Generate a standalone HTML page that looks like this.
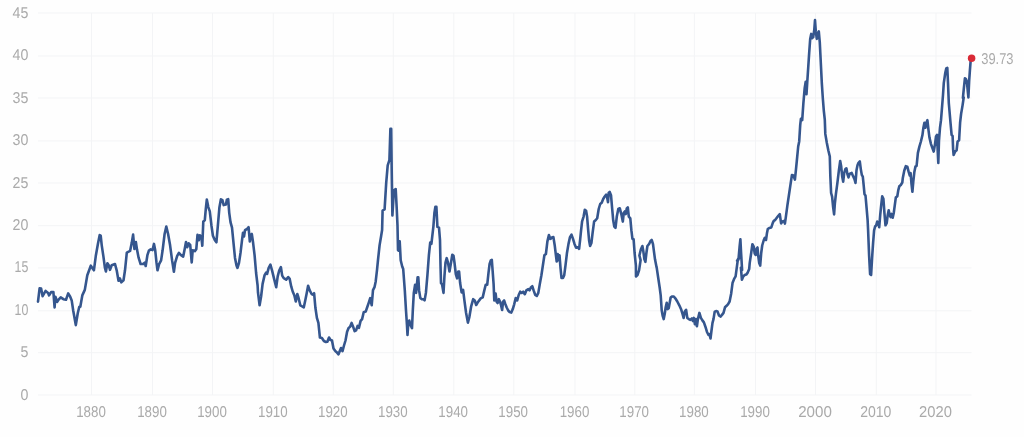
<!DOCTYPE html><html><head><meta charset="utf-8"><style>
html,body{margin:0;padding:0;background:#fff;}body{width:1024px;height:437px;overflow:hidden;position:relative;font-family:"Liberation Sans",sans-serif;}
svg{position:absolute;left:0;top:0;}text{text-rendering:geometricPrecision;font-family:"Liberation Sans",sans-serif;font-size:15.7px;fill:#aaaaaa;}
</style></head><body>
<svg width="1024" height="437" viewBox="0 0 1024 437">
<rect x="0" y="0" width="1024" height="437" fill="#fefefe"/>
<g stroke="#f3f4f6" stroke-width="1" fill="none">
<line x1="38" x2="971.5" y1="395.0" y2="395.0"/>
<line x1="38" x2="971.5" y1="352.7" y2="352.7"/>
<line x1="38" x2="971.5" y1="310.8" y2="310.8"/>
<line x1="38" x2="971.5" y1="267.9" y2="267.9"/>
<line x1="38" x2="971.5" y1="225.7" y2="225.7"/>
<line x1="38" x2="971.5" y1="183.0" y2="183.0"/>
<line x1="38" x2="971.5" y1="140.9" y2="140.9"/>
<line x1="38" x2="971.5" y1="98.0" y2="98.0"/>
<line x1="38" x2="971.5" y1="56.0" y2="56.0"/>
<line x1="38" x2="971.5" y1="13.0" y2="13.0"/>
<line x1="91.5" x2="91.5" y1="13.0" y2="395.0"/>
<line x1="152.5" x2="152.5" y1="13.0" y2="395.0"/>
<line x1="212.5" x2="212.5" y1="13.0" y2="395.0"/>
<line x1="273.3" x2="273.3" y1="13.0" y2="395.0"/>
<line x1="333.3" x2="333.3" y1="13.0" y2="395.0"/>
<line x1="393.3" x2="393.3" y1="13.0" y2="395.0"/>
<line x1="453.8" x2="453.8" y1="13.0" y2="395.0"/>
<line x1="513.8" x2="513.8" y1="13.0" y2="395.0"/>
<line x1="575.0" x2="575.0" y1="13.0" y2="395.0"/>
<line x1="634.8" x2="634.8" y1="13.0" y2="395.0"/>
<line x1="694.4" x2="694.4" y1="13.0" y2="395.0"/>
<line x1="755.5" x2="755.5" y1="13.0" y2="395.0"/>
<line x1="815.5" x2="815.5" y1="13.0" y2="395.0"/>
<line x1="876.3" x2="876.3" y1="13.0" y2="395.0"/>
<line x1="936.0" x2="936.0" y1="13.0" y2="395.0"/>
</g>
<g style="filter:blur(0.3px)">
<text transform="translate(28.3,399.7) scale(0.905,1)" text-anchor="end">0</text>
<text transform="translate(28.3,357.3) scale(0.905,1)" text-anchor="end">5</text>
<text transform="translate(28.3,314.8) scale(0.790,1)" text-anchor="end">10</text>
<text transform="translate(28.3,272.4) scale(0.790,1)" text-anchor="end">15</text>
<text transform="translate(28.3,230.0) scale(0.905,1)" text-anchor="end">20</text>
<text transform="translate(28.3,187.5) scale(0.905,1)" text-anchor="end">25</text>
<text transform="translate(28.3,145.1) scale(0.905,1)" text-anchor="end">30</text>
<text transform="translate(28.3,102.7) scale(0.905,1)" text-anchor="end">35</text>
<text transform="translate(28.3,60.2) scale(0.905,1)" text-anchor="end">40</text>
<text transform="translate(28.3,17.8) scale(0.905,1)" text-anchor="end">45</text>
<text transform="translate(91.0,417.2) scale(0.850,1)" text-anchor="middle">1880</text>
<text transform="translate(152.0,417.2) scale(0.850,1)" text-anchor="middle">1890</text>
<text transform="translate(212.0,417.2) scale(0.850,1)" text-anchor="middle">1900</text>
<text transform="translate(272.8,417.2) scale(0.850,1)" text-anchor="middle">1910</text>
<text transform="translate(332.8,417.2) scale(0.850,1)" text-anchor="middle">1920</text>
<text transform="translate(392.8,417.2) scale(0.850,1)" text-anchor="middle">1930</text>
<text transform="translate(453.2,417.2) scale(0.850,1)" text-anchor="middle">1940</text>
<text transform="translate(513.2,417.2) scale(0.850,1)" text-anchor="middle">1950</text>
<text transform="translate(574.5,417.2) scale(0.850,1)" text-anchor="middle">1960</text>
<text transform="translate(634.2,417.2) scale(0.850,1)" text-anchor="middle">1970</text>
<text transform="translate(693.9,417.2) scale(0.850,1)" text-anchor="middle">1980</text>
<text transform="translate(755.0,417.2) scale(0.850,1)" text-anchor="middle">1990</text>
<text transform="translate(815.0,417.2) scale(0.965,1)" text-anchor="middle">2000</text>
<text transform="translate(875.8,417.2) scale(0.895,1)" text-anchor="middle">2010</text>
<text transform="translate(935.5,417.2) scale(0.940,1)" text-anchor="middle">2020</text>
<text transform="translate(981.3,64.2) scale(0.82,1)" text-anchor="start">39.73</text>
</g>
<polyline points="38.0,301.7 39.6,288.4 41.1,288.6 42.6,296.2 45.6,290.9 48.1,292.9 49.1,295.4 51.1,292.1 53.4,292.1 54.6,307.5 55.4,296.7 57.2,301.9 58.4,299.9 60.7,297.4 63.4,299.2 66.0,299.7 68.2,293.4 70.2,296.7 71.7,300.4 73.2,310.5 75.8,325.1 77.8,313.0 79.3,306.7 80.3,306.7 82.3,295.4 84.8,289.9 87.3,275.3 90.8,265.7 92.1,267.7 93.9,270.3 95.9,255.2 97.9,243.9 99.7,235.1 100.7,235.6 101.7,245.1 103.4,256.4 104.9,267.7 105.9,271.5 107.4,263.2 108.7,265.2 110.0,269.8 111.7,265.2 115.0,264.0 116.7,270.3 118.5,280.8 119.8,278.3 121.3,282.3 123.5,280.3 125.0,270.3 126.8,252.7 130.1,250.9 131.8,242.6 133.1,234.6 134.4,248.9 135.9,242.1 137.1,250.1 138.6,257.7 140.6,264.0 143.2,264.0 144.7,262.7 145.7,266.0 147.4,255.2 148.9,250.6 150.7,249.4 152.5,250.1 154.0,243.9 155.2,250.1 156.5,262.7 157.5,270.3 159.1,264.2 161.1,260.4 162.6,250.3 164.6,234.0 166.3,226.5 168.1,234.0 170.1,245.3 172.1,260.4 173.9,271.7 175.1,262.9 177.2,255.9 178.9,252.9 180.7,254.9 183.2,256.6 184.7,249.1 186.0,242.0 187.2,247.3 188.7,243.3 190.2,244.8 191.7,262.4 192.7,250.3 194.8,251.1 196.3,249.1 197.5,234.8 198.8,240.3 199.8,235.3 201.3,236.5 202.3,245.8 203.3,221.4 204.8,220.2 205.8,208.9 206.8,199.6 208.3,207.1 209.8,211.4 211.4,225.2 212.9,235.8 214.9,240.3 216.4,242.3 217.9,225.2 219.4,207.6 220.9,199.3 222.4,200.1 223.7,205.1 225.9,204.6 226.9,199.6 228.2,199.1 229.2,212.6 230.5,222.2 232.0,227.7 233.5,242.8 235.0,257.9 236.5,265.4 237.5,267.9 239.0,262.9 240.5,252.9 242.0,240.3 243.0,232.7 244.0,236.5 245.0,230.2 247.1,229.0 248.6,227.2 249.8,241.5 250.8,234.8 251.8,234.0 253.1,242.8 254.6,255.4 256.1,273.0 257.6,285.5 258.0,292.7 259.6,305.3 261.1,296.5 262.6,283.9 264.6,275.1 266.1,272.6 267.1,273.9 268.6,268.1 270.4,264.6 272.1,270.6 274.1,278.9 276.2,287.2 277.7,276.4 279.2,270.6 280.9,267.1 282.2,275.6 283.7,278.1 286.2,279.6 288.2,277.1 289.7,278.9 291.2,286.4 292.7,291.5 294.3,295.2 295.8,301.5 297.3,294.0 298.5,297.7 300.3,305.3 302.3,306.5 303.8,307.3 305.3,300.3 306.8,292.7 308.1,285.7 309.6,290.2 311.6,294.0 312.9,294.7 314.1,293.2 315.4,307.8 316.9,317.9 318.4,322.9 319.9,337.5 321.9,338.0 323.9,341.0 325.9,342.0 327.4,341.7 329.0,337.5 330.5,340.0 332.0,340.5 333.5,348.5 335.5,351.3 337.0,352.6 338.5,354.3 340.0,350.5 341.0,348.0 342.5,351.1 344.0,345.5 345.5,340.5 347.1,331.7 348.6,327.9 350.1,326.7 351.6,322.9 353.1,326.7 354.6,331.2 356.1,330.4 357.6,325.9 358.9,327.9 360.6,320.9 362.1,319.1 363.7,312.3 365.7,311.6 367.2,307.3 368.7,302.8 370.2,298.2 371.7,305.3 373.0,290.2 374.5,287.2 375.7,281.4 377.0,270.1 378.0,260.0 379.6,245.1 381.1,236.3 382.1,230.0 382.6,210.5 384.6,209.3 386.2,182.9 387.7,165.3 389.4,160.2 390.4,128.8 391.2,128.8 391.7,170.3 392.4,215.5 393.9,190.4 395.7,189.1 396.7,208.0 397.5,225.6 398.0,250.1 398.7,250.6 399.7,241.3 400.7,260.2 402.2,266.5 403.2,269.0 404.8,290.4 406.0,310.5 407.0,325.6 407.5,334.9 408.3,323.1 409.3,320.5 410.8,325.6 412.0,328.1 412.8,310.5 413.8,292.9 415.1,284.8 416.1,292.9 417.6,277.3 418.3,277.3 419.1,290.4 420.3,297.9 421.9,299.2 423.4,299.2 424.6,300.4 425.9,292.9 427.4,275.3 428.9,255.2 430.2,242.6 431.4,243.9 432.4,235.1 433.4,226.3 434.4,213.0 435.4,206.7 436.4,206.7 437.4,226.9 439.0,227.6 440.0,240.1 440.5,265.2 441.0,283.3 442.0,284.1 443.5,292.9 444.5,275.3 445.5,262.7 446.7,258.2 448.0,262.7 449.5,271.5 451.0,262.7 452.3,254.7 453.5,255.7 454.5,262.7 455.8,274.0 457.1,278.3 458.3,271.5 459.1,271.5 460.1,282.8 461.6,292.4 463.1,289.9 464.4,300.4 466.1,313.0 467.9,322.6 469.4,316.8 471.1,306.7 473.2,299.2 474.7,300.4 476.2,305.0 478.2,301.7 480.7,298.4 482.7,297.4 484.2,290.9 485.7,284.8 487.2,284.8 488.5,272.8 489.6,264.0 490.8,260.3 491.8,259.8 492.6,270.3 493.6,284.1 494.3,300.5 495.6,293.5 496.6,301.7 497.6,303.0 498.9,299.2 500.1,301.7 501.1,305.5 502.1,310.0 503.1,301.7 504.1,300.5 505.1,303.5 506.7,307.5 508.2,310.5 509.7,312.1 511.2,312.6 512.7,309.3 514.2,304.3 515.7,298.0 517.2,300.5 518.7,295.0 520.2,291.7 521.7,292.9 523.2,291.7 524.8,294.2 526.3,290.4 528.3,289.2 529.5,290.4 530.8,287.4 532.3,286.2 533.6,290.4 535.3,295.0 536.8,296.0 538.3,292.9 539.8,284.1 541.4,275.3 542.9,265.3 544.4,255.2 545.9,254.0 547.4,241.4 548.9,235.1 550.4,238.9 551.9,237.6 553.4,237.1 554.7,245.2 555.9,255.2 556.7,261.5 557.7,254.0 558.7,260.3 559.5,255.2 560.5,267.8 561.5,277.9 563.0,277.9 564.2,275.3 565.5,265.3 567.0,252.7 568.5,243.9 570.0,237.1 571.5,234.6 573.0,238.9 574.5,243.9 576.1,247.7 577.6,247.2 579.1,248.9 580.1,240.1 581.1,230.1 582.1,221.3 583.6,216.6 584.8,209.8 586.1,210.8 587.1,216.6 588.1,229.1 589.1,240.5 590.1,246.0 591.4,243.0 592.6,232.9 594.1,221.6 595.6,220.3 597.2,218.3 598.7,209.0 600.2,204.0 601.7,202.7 603.2,199.0 604.7,196.5 606.2,194.7 607.2,197.7 608.0,202.2 608.7,192.7 609.7,191.9 611.0,195.2 612.2,209.0 613.2,220.3 614.3,226.6 615.5,227.9 616.8,216.6 618.3,209.0 619.8,208.3 621.3,214.1 622.8,221.6 623.8,212.8 624.8,211.5 625.8,214.1 626.8,208.3 627.8,207.3 628.8,216.6 630.3,218.3 631.4,230.4 632.4,238.7 633.6,239.2 634.6,253.0 635.9,265.6 636.0,276.4 637.5,275.1 639.1,270.1 640.6,260.1 639.4,255.5 640.9,249.3 642.4,246.0 643.4,251.8 644.4,259.3 645.4,261.8 646.4,253.0 647.4,246.0 649.0,244.2 650.5,241.0 651.7,240.0 653.0,244.2 654.0,251.8 655.0,259.3 656.5,266.9 656.7,267.6 658.2,277.7 659.7,287.7 660.7,295.3 661.7,310.3 662.7,315.9 663.7,319.1 664.7,314.1 665.7,307.3 666.7,302.8 667.7,309.1 668.7,308.3 669.7,302.8 670.7,297.3 672.2,296.5 673.8,296.5 675.3,298.3 677.3,301.5 679.3,305.3 681.3,309.8 682.8,314.9 683.6,317.9 684.8,311.6 686.1,309.8 687.3,317.9 688.8,319.1 690.3,319.9 691.9,318.4 692.9,320.9 693.9,317.9 694.9,324.2 695.9,319.1 696.9,326.2 697.9,319.1 699.4,312.9 700.9,317.9 702.4,320.4 703.9,322.4 705.4,326.7 706.9,331.7 708.5,335.0 709.5,334.2 710.5,338.5 711.5,330.5 712.5,322.9 713.5,319.1 714.7,311.6 716.0,311.1 717.5,311.6 719.0,315.4 720.5,316.6 722.0,314.9 723.5,312.9 725.0,307.3 726.6,305.8 728.1,304.1 729.6,301.5 731.1,294.0 732.6,282.7 734.1,278.9 735.6,276.4 736.6,268.9 737.6,261.3 739.1,258.0 737.1,260.6 738.6,258.1 739.6,246.7 740.4,239.2 741.1,253.0 742.1,269.9 740.9,267.6 741.9,279.7 743.2,276.4 744.7,275.1 746.2,274.6 747.7,272.6 749.2,268.9 749.7,263.1 751.2,253.0 752.4,244.2 753.7,246.7 754.7,253.5 755.7,255.0 756.7,248.5 757.5,247.5 758.2,255.5 759.2,263.1 760.2,265.6 761.2,253.0 762.2,245.5 763.8,240.0 764.8,237.9 766.0,240.0 767.0,232.9 767.8,229.1 769.3,227.9 771.3,227.4 772.8,222.9 773.8,220.8 775.3,219.8 776.8,217.8 778.3,215.8 779.8,214.1 781.1,223.4 782.4,221.6 783.9,221.1 784.9,223.6 785.9,216.6 787.4,205.3 788.9,195.2 790.4,185.1 791.9,175.1 793.4,175.6 794.9,179.6 795.9,170.1 796.9,160.0 798.2,146.5 799.2,141.4 800.2,125.1 800.9,118.8 802.2,120.1 803.4,103.0 804.7,87.9 805.7,81.7 806.5,94.2 807.2,82.9 808.2,67.8 809.2,52.7 810.2,38.9 811.2,33.9 812.2,38.2 813.2,37.2 814.3,29.6 815.0,20.1 815.8,31.4 816.8,38.9 817.8,33.1 818.8,31.4 819.8,42.7 820.8,62.8 821.8,82.9 822.8,98.0 823.8,110.6 824.8,119.9 825.3,133.9 826.8,142.7 828.3,150.2 829.8,156.5 830.3,175.4 831.1,193.0 832.1,196.7 833.1,206.8 834.1,214.4 834.9,203.0 835.9,194.2 837.4,182.9 838.9,170.3 840.2,161.0 841.2,166.6 842.2,176.6 843.2,181.7 844.2,172.9 845.4,169.1 846.4,168.3 847.4,174.1 848.5,177.4 849.5,174.1 850.5,173.4 851.7,172.9 853.0,175.9 854.5,179.1 855.5,182.9 856.5,170.3 857.5,165.3 858.5,162.8 859.8,161.5 860.8,169.1 861.8,174.9 862.8,176.6 863.8,186.7 864.5,194.2 865.5,195.5 866.6,208.1 867.6,219.9 868.1,230.3 869.1,255.4 870.1,274.3 871.1,275.0 872.1,257.9 873.1,242.9 874.1,230.3 875.1,226.5 876.2,225.3 877.2,221.5 878.2,222.7 879.2,227.3 880.2,215.2 881.2,205.1 882.2,196.3 883.4,198.9 884.4,212.7 885.5,225.3 886.7,223.2 887.7,215.2 888.7,210.2 889.7,215.2 890.7,217.2 891.7,213.9 892.7,217.7 893.8,212.7 894.8,205.1 895.8,197.6 897.3,196.3 898.3,190.1 899.3,186.3 900.8,185.0 902.3,182.5 902.8,178.0 904.3,170.5 905.8,166.2 907.3,166.7 908.6,171.7 909.8,175.5 910.6,173.0 911.4,183.0 912.4,191.8 913.4,180.5 914.4,171.7 915.4,166.7 916.6,165.9 917.9,152.9 919.4,146.6 920.9,141.5 922.4,135.3 923.4,127.7 924.4,122.7 925.4,127.7 926.4,122.7 927.4,120.2 928.5,130.2 929.5,137.8 931.0,144.1 932.5,148.3 933.7,151.6 935.0,144.1 936.0,136.5 937.0,134.8 937.8,152.9 938.3,162.9 939.0,140.3 940.0,127.7 941.0,120.2 942.0,107.6 943.0,95.0 943.8,82.9 945.3,72.8 946.3,68.3 947.3,67.8 948.0,82.9 948.8,103.0 950.6,123.9 951.6,134.8 952.6,135.8 953.1,149.1 953.6,154.9 955.1,151.6 956.6,150.3 957.6,141.5 959.1,140.3 960.1,122.7 961.1,113.9 962.6,105.1 963.7,97.5 962.9,97.9 963.9,87.9 964.9,78.3 965.9,79.1 966.9,81.6 967.7,90.4 968.4,97.4 969.2,80.3 969.9,70.3 970.7,60.2 971.4,58.2" fill="none" stroke="#35568e" stroke-width="2.6" stroke-linejoin="round" stroke-linecap="round"/>
<circle cx="971.6" cy="58.2" r="3.75" fill="#d92a36"/>
</svg></body></html>
